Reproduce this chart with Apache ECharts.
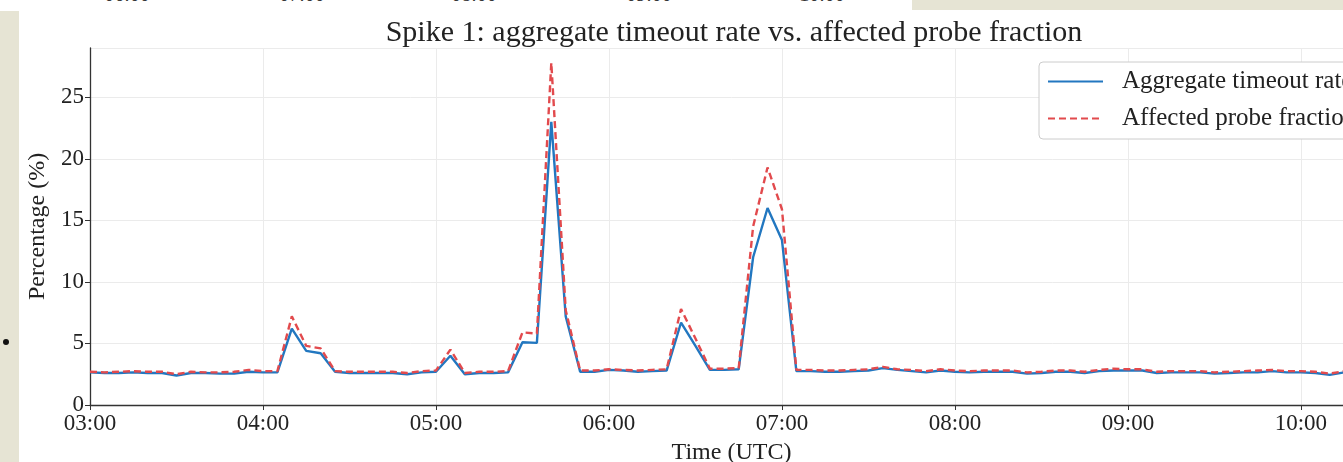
<!DOCTYPE html>
<html>
<head>
<meta charset="utf-8">
<script src="https://cdn.jsdelivr.net/npm/echarts@6/dist/echarts.min.js"></script>
<style>
    html, body { margin: 0; padding: 0; background: #ffffff; overflow: hidden; }
    body { width: 1343px; height: 462px; position: relative; font-family: "Liberation Serif", serif; }
    #left-strip { position: absolute; left: 0; top: 11px; width: 19px; height: 451px; background: #e6e4d4; }
    #top-box { position: absolute; left: 912px; top: 0; width: 431px; height: 10px; background: #e6e4d4; }
    #bullet { position: absolute; left: 3px; top: 339px; width: 6px; height: 6px; border-radius: 3px; background: #111; }
    .prev-tick { position: absolute; top: -17px; font-size: 20px; color: #333; width: 60px; text-align: center; }
    #chart { position: absolute; left: 0; top: 0; width: 1400px; height: 462px; }
</style>
</head>
<body>
<div id="left-strip"></div>
<div id="top-box"></div>
<div id="bullet"></div>
<div class="prev-tick" style="left:97px">06:00</div>
<div class="prev-tick" style="left:272px">07:00</div>
<div class="prev-tick" style="left:444px">08:00</div>
<div class="prev-tick" style="left:619px">09:00</div>
<div class="prev-tick" style="left:792px">10:00</div>
<div id="chart"></div>
<script>
// 5-minute samples starting at 03:00 UTC
const startMinute = 180
const stepMinutes = 5

const aggregateRate = [
    2.65, 2.6, 2.6, 2.65, 2.6, 2.6, 2.4, 2.6, 2.6, 2.55, 2.55, 2.7,
    2.65, 2.65, 6.2, 4.4, 4.2, 2.7, 2.6, 2.6, 2.6, 2.6, 2.5, 2.65,
    2.7, 4.0, 2.5, 2.6, 2.6, 2.65, 5.1, 5.05, 23.0, 7.2, 2.7, 2.7,
    2.85, 2.8, 2.7, 2.75, 2.8, 6.7, 4.8, 2.85, 2.85, 2.9, 12.0, 16.0,
    13.4, 2.75, 2.75, 2.7, 2.7, 2.75, 2.8, 3.0, 2.85, 2.75, 2.65, 2.8,
    2.7, 2.65, 2.7, 2.7, 2.7, 2.55, 2.6, 2.7, 2.7, 2.6, 2.75, 2.8,
    2.8, 2.8, 2.6, 2.65, 2.65, 2.65, 2.55, 2.6, 2.65, 2.65, 2.75, 2.65,
    2.65, 2.6, 2.45, 2.65, 2.7, 2.65,
]

const affectedFraction = [
    2.7, 2.65, 2.7, 2.75, 2.7, 2.7, 2.5, 2.7, 2.65, 2.65, 2.7, 2.85,
    2.75, 2.75, 7.2, 4.8, 4.6, 2.75, 2.7, 2.7, 2.7, 2.7, 2.6, 2.75,
    2.8, 4.5, 2.6, 2.7, 2.7, 2.75, 5.9, 5.8, 27.8, 7.7, 2.8, 2.8,
    2.9, 2.85, 2.8, 2.85, 2.9, 7.8, 5.4, 2.95, 2.95, 3.0, 14.5, 19.3,
    15.9, 2.85, 2.85, 2.8, 2.8, 2.85, 2.9, 3.1, 2.9, 2.85, 2.75, 2.9,
    2.8, 2.75, 2.8, 2.8, 2.8, 2.65, 2.7, 2.8, 2.8, 2.7, 2.85, 2.95,
    2.9, 2.9, 2.7, 2.75, 2.75, 2.75, 2.65, 2.7, 2.75, 2.8, 2.85, 2.75,
    2.75, 2.7, 2.55, 2.75, 2.8, 2.75,
]

const seriesNames = ['Aggregate timeout rate', 'Affected probe fraction']
const titleText = 'Spike 1: aggregate timeout rate vs. affected probe fraction'

const fontFamily = '"Liberation Serif", "DejaVu Serif", serif'

const pairUp = function(values) {
    return values.map((v, i) => [startMinute + i * stepMinutes, v])
}

const formatClock = function(m) {
    const h = Math.floor(m / 60)
    const mm = m % 60
    return String(h).padStart(2, '0') + ':' + String(mm).padStart(2, '0')
}

const buildOption = function() {
    const lastMinute = startMinute + (aggregateRate.length - 1) * stepMinutes
    const option = {
        animation: false,
        title: {
            text: titleText,
            left: 729,
            top: 13,
            textAlign: 'center',
            textStyle: {
                fontFamily: fontFamily,
                fontWeight: 'normal',
                fontSize: 30,
                color: '#222',
            },
        },
        legend: {
            orient: 'vertical',
            left: 1039,
            top: 62,
            padding: [7, 14, 8, 8],
            itemWidth: 55,
            itemHeight: 14,
            itemGap: 12,
            backgroundColor: '#ffffff',
            borderColor: '#cccccc',
            borderWidth: 1,
            borderRadius: 4,
            itemStyle: { opacity: 0 },
            textStyle: {
                fontFamily: fontFamily,
                fontSize: 25,
                color: '#222',
                padding: [0, 0, 0, 14],
            },
            data: seriesNames,
        },
        grid: {
            left: 90,
            right: 27,
            top: 48,
            bottom: 57,
            outerBoundsMode: 'none',
        },
        xAxis: {
            type: 'value',
            min: startMinute,
            max: lastMinute,
            interval: 60,
            name: 'Time (UTC)',
            nameLocation: 'middle',
            nameGap: 36,
            nameTextStyle: {
                fontFamily: fontFamily,
                fontSize: 24,
                color: '#222',
            },
            axisLine: { lineStyle: { color: '#333', width: 1.3 } },
            axisTick: { show: true, length: 5, lineStyle: { color: '#333' } },
            axisLabel: {
                fontFamily: fontFamily,
                fontSize: 23,
                color: '#222',
                margin: 7,
                showMaxLabel: false,
                formatter: formatClock,
            },
            splitLine: { show: true, lineStyle: { color: '#ebebeb', width: 1 } },
        },
        yAxis: {
            type: 'value',
            min: 0,
            max: 29,
            interval: 5,
            name: 'Percentage (%)',
            nameLocation: 'middle',
            nameGap: 34,
            nameTextStyle: {
                fontFamily: fontFamily,
                fontSize: 24,
                color: '#222',
            },
            axisLine: { show: true, lineStyle: { color: '#333', width: 1.3 } },
            axisTick: { show: true, length: 5, lineStyle: { color: '#333' } },
            axisLabel: {
                fontFamily: fontFamily,
                fontSize: 23,
                color: '#222',
                margin: 6,
                showMaxLabel: false,
            },
            splitLine: { show: true, lineStyle: { color: '#ebebeb', width: 1 } },
        },
        series: [
            {
                name: seriesNames[0],
                type: 'line',
                symbol: 'none',
                data: pairUp(aggregateRate),
                itemStyle: { color: '#2277c0' },
                lineStyle: { color: '#2277c0', width: 2.4 },
                z: 2,
            },
            {
                name: seriesNames[1],
                type: 'line',
                symbol: 'none',
                data: pairUp(affectedFraction),
                itemStyle: { color: '#e24a4d' },
                lineStyle: { color: '#e24a4d', width: 2.4, type: [7, 4] },
                z: 3,
            },
        ],
    }
    return option
}

const __main = function() {
    const chart = echarts.init(document.getElementById('chart'))
    chart.setOption(buildOption())
}

__main()
</script>
</body>
</html>
